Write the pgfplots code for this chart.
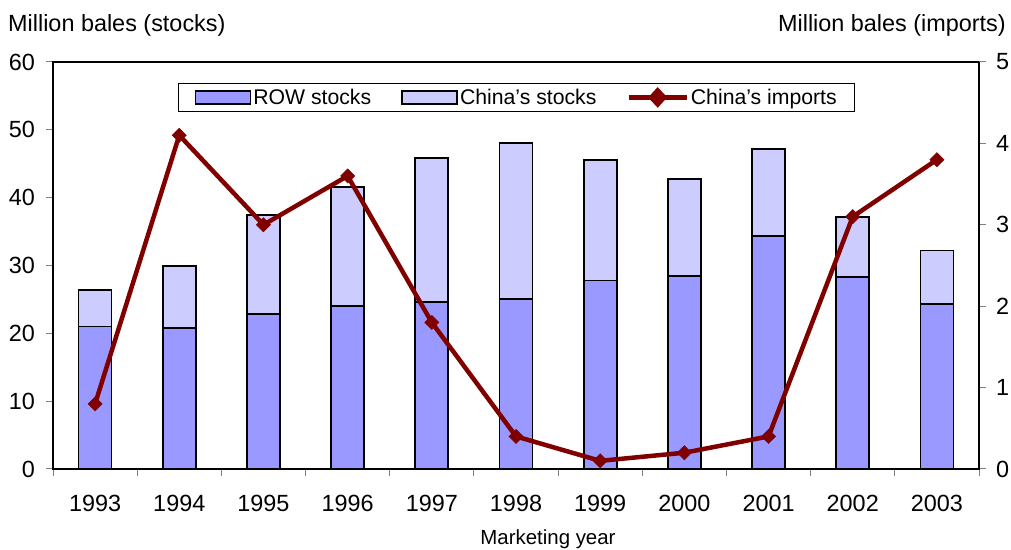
\documentclass[border=0pt]{standalone}
\usepackage{pgfplots}
\usepackage{pgfplotstable}
\pgfplotsset{compat=1.18}
\usepackage{fontspec}
\setmainfont{Liberation Sans}
\definecolor{rowc}{HTML}{9999FF}
\definecolor{chnc}{HTML}{CCCCFF}
\definecolor{impc}{HTML}{800000}
\definecolor{tickc}{HTML}{808080}
\pgfplotsset{
 rowleg/.style={legend image code/.code={\draw[fill=rowc,draw=black,line width=1.8bp] (0bp,-6.5bp) rectangle (55bp,6.5bp);}},
 chnleg/.style={legend image code/.code={\draw[fill=chnc,draw=black,line width=1.8bp] (0bp,-6.5bp) rectangle (55bp,6.5bp);}},
 impleg/.style={legend image code/.code={\draw[impc,line width=4.5bp] (0bp,0bp) -- (58bp,0bp);
   \fill[impc] (29bp,7bp) -- (35.5bp,0bp) -- (29bp,-7bp) -- (22.5bp,0bp) -- cycle;}},
}
\pgfplotstableread{
idx row china imp
0 21.0 5.4 0.8
1 20.8 9.1 4.1
2 22.8 14.7 3.0
3 24.0 17.6 3.6
4 24.6 21.2 1.8
5 25.1 23.0 0.4
6 27.8 17.8 0.1
7 28.4 14.3 0.2
8 34.3 12.9 0.4
9 28.3 8.9 3.1
10 24.3 7.9 3.8
}\data
\begin{document}
\begin{tikzpicture}[x=1bp,y=1bp]
\path[use as bounding box] (0,0) rectangle (1011,550);
\begin{axis}[
 at={(53bp,81bp)}, anchor=south west,
 scale only axis, width=926bp, height=407bp,
 ybar stacked, bar width=33bp,
 xmin=-0.5, xmax=10.5, ymin=0, ymax=60,
 ytick={0,10,20,30,40,50,60},
 xtick={0,1,2,3,4,5,6,7,8,9,10},
 xticklabels={1993,1994,1995,1996,1997,1998,1999,2000,2001,2002,2003},
 major x tick style={draw=none},
 minor xtick={-0.5,0.5,1.5,2.5,3.5,4.5,5.5,6.5,7.5,8.5,9.5,10.5},
 xtick pos=bottom, ytick pos=left,
 tick align=outside,
 major tick length=7bp, minor tick length=7bp,
 tick style={tickc, line width=1bp},
 axis line style={black, line width=2bp},
 /pgf/number format/assume math mode=true,
 ticklabel style={font=\fontsize{23.5}{28}\selectfont},
 yticklabel style={anchor=east, inner sep=0pt, xshift=-11bp},
 xticklabel style={anchor=north, inner sep=0pt, yshift=-19bp},
]
\addplot[fill=rowc, draw=black, line width=1.8bp] table[x=idx,y=row]{\data};
\addplot[fill=chnc, draw=black, line width=1.8bp] table[x=idx,y=china]{\data};
\end{axis}
\begin{axis}[
 at={(53bp,81bp)}, anchor=south west,
 scale only axis, width=926bp, height=407bp,
 xmin=-0.5, xmax=10.5, ymin=0, ymax=5,
 axis x line=none, axis y line*=right,
 ytick={0,1,2,3,4,5},
 tick align=outside, major tick length=7bp,
 tick style={tickc, line width=1bp},
 axis line style={black, line width=2bp},
 /pgf/number format/assume math mode=true,
 ticklabel style={font=\fontsize{23.5}{28}\selectfont},
 yticklabel style={anchor=west, inner sep=0pt, xshift=10bp},
 clip=false,
 legend columns=3,
 legend style={at={(0.1350,0.9484)}, anchor=north west, draw=black, line width=1bp, fill=white,
   font=\fontsize{21.3}{25}\selectfont, inner xsep=16bp, inner ysep=3.5bp,
   nodes={inner sep=2bp},
   /tikz/every even column/.append style={column sep=28bp}},
]
\addlegendimage{rowleg}
\addlegendentry{ROW stocks}
\addlegendimage{chnleg}
\addlegendentry{China's stocks}
\addplot[impc, line width=4.5bp, mark=square*, mark size=5bp, mark options={rotate=45, line width=0.5bp, fill=impc}, impleg] table[x=idx,y=imp]{\data};
\addlegendentry{China's imports}
\end{axis}
\node[anchor=base west, font=\fontsize{23.5}{28}\selectfont, inner sep=0pt] at (8,518) {Million bales (stocks)};
\node[anchor=base east, font=\fontsize{23.5}{28}\selectfont, inner sep=0pt] at (1006,518) {Million bales (imports)};
\node[anchor=base, font=\fontsize{20.5}{24}\selectfont, inner sep=0pt] at (548,5) {Marketing year};
\end{tikzpicture}
\end{document}
